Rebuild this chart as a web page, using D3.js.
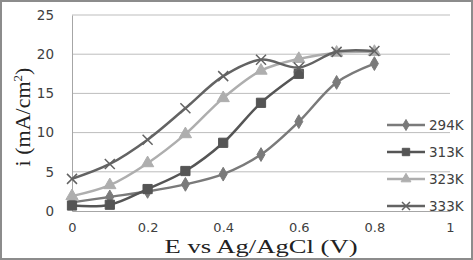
<!DOCTYPE html>
<html>
<head>
<meta charset="utf-8">
<script src="https://cdn.jsdelivr.net/npm/d3@7"></script>
<style>
  body { margin: 0; background: #ffffff; }
  svg { display: block; }
</style>
</head>
<body>
<div id="chart"></div>
<script>
// potential (V) vs current density, one series per temperature
const potentials = [0, 0.1, 0.2, 0.3, 0.4, 0.5, 0.6, 0.7, 0.8];
const seriesNames = ["294K", "313K", "323K", "333K"];
const i294 = [1.1, 1.8, 2.5, 3.4, 4.7, 7.2, 11.4, 16.4, 18.8];
const i313 = [0.7, 0.8, 2.8, 5.1, 8.7, 13.8, 17.5];
const i323 = [1.9, 3.3, 6.1, 9.8, 14.4, 17.9, 19.4, 20.2, 20.3];
const i333 = [4.1, 6.0, 9.1, 13.1, 17.2, 19.3, 18.3, 20.3, 20.4];
const xTicks = [0, 0.2, 0.4, 0.6, 0.8, 1];
const yTicks = [0, 5, 10, 15, 20, 25];

const W = 473, H = 260;
const margin = {top: 15, right: 23, bottom: 49, left: 72};

const svg = d3.select("#chart").append("svg")
    .attr("width", W)
    .attr("height", H);

// outer chart border
svg.append("rect")
    .attr("x", 1).attr("y", 1)
    .attr("width", W - 2).attr("height", H - 2)
    .attr("fill", "#ffffff")
    .attr("stroke", "#8c8c8c")
    .attr("stroke-width", 2);

const x = d3.scaleLinear().domain([0, 1]).range([margin.left, W - margin.right]);
const y = d3.scaleLinear().domain([0, 25]).range([H - margin.bottom, margin.top]);

// horizontal gridlines
svg.append("g")
    .selectAll("line")
    .data(yTicks.filter(d => d > 0))
    .enter().append("line")
    .attr("x1", x(0)).attr("x2", x(1))
    .attr("y1", d => y(d)).attr("y2", d => y(d))
    .attr("stroke", "#bdbdbd")
    .attr("stroke-width", 1);

const tickFont = "DejaVu Sans, Verdana, sans-serif";

// X axis
const xAxis = svg.append("g")
    .attr("transform", "translate(0," + y(0) + ")")
    .call(d3.axisBottom(x).tickValues(xTicks).tickSize(0).tickPadding(12)
        .tickFormat(d => d === 0 || d === 1 ? d3.format("d")(d) : d3.format(".1f")(d)));
xAxis.select(".domain").attr("stroke", "#a6a6a6");
xAxis.selectAll("text")
    .attr("font-family", tickFont)
    .attr("font-size", 13)
    .attr("fill", "#404040");

// Y axis
const yAxis = svg.append("g")
    .attr("transform", "translate(" + x(0) + ",0)")
    .call(d3.axisLeft(y).tickValues(yTicks).tickSize(0).tickPadding(18));
yAxis.select(".domain").attr("stroke", "#a6a6a6");
yAxis.selectAll("text")
    .attr("font-family", tickFont)
    .attr("font-size", 13.5)
    .attr("fill", "#404040");

// axis titles
svg.append("text")
    .attr("x", 261)
    .attr("y", 253)
    .attr("text-anchor", "middle")
    .attr("font-family", "Liberation Serif, Times New Roman, serif")
    .attr("font-size", 19)
    .attr("textLength", 193)
    .attr("lengthAdjust", "spacingAndGlyphs")
    .attr("fill", "#222222")
    .text("E vs Ag/AgCl (V)");

const yTitle = svg.append("text")
    .attr("transform", "translate(30,117) rotate(-90)")
    .attr("text-anchor", "middle")
    .attr("font-family", "Liberation Serif, Times New Roman, serif")
    .attr("font-size", 22)
    .attr("fill", "#222222");
yTitle.append("tspan").text("i  (mA/cm");
yTitle.append("tspan").attr("font-size", 13).attr("dy", -8).text("2");
yTitle.append("tspan").attr("dy", 8).text(")");

const series = [
    {name: seriesNames[0], values: i294, color: "#7a7a7a", marker: d3.symbolDiamond, size: 55},
    {name: seriesNames[1], values: i313, color: "#555555", marker: d3.symbolSquare, size: 85},
    {name: seriesNames[2], values: i323, color: "#aeaeae", marker: d3.symbolTriangle, size: 65},
    {name: seriesNames[3], values: i333, color: "#636363", marker: "cross", size: 5}
];

const line = d3.line()
    .x(d => x(d[0]))
    .y(d => y(d[1]))
    .curve(d3.curveCatmullRom.alpha(0.5));

function drawMarker(g, s, cx, cy, scale) {
    if (s.marker === "cross") {
        const r = s.size * scale;
        g.append("path")
            .attr("d", `M${cx - r},${cy - r}L${cx + r},${cy + r}M${cx - r},${cy + r}L${cx + r},${cy - r}`)
            .attr("stroke", s.color)
            .attr("stroke-width", 1.5)
            .attr("fill", "none");
    } else {
        g.append("path")
            .attr("d", d3.symbol().type(s.marker).size(s.size * scale * scale)())
            .attr("transform", "translate(" + cx + "," + cy + ")")
            .attr("fill", s.color)
            .attr("stroke", s.color);
    }
}

series.forEach(s => {
    const pts = s.values.map((v, k) => [potentials[k], v]);
    const g = svg.append("g");
    g.append("path")
        .datum(pts)
        .attr("d", line)
        .attr("fill", "none")
        .attr("stroke", s.color)
        .attr("stroke-width", 2.5);
    pts.forEach(p => drawMarker(g, s, x(p[0]), y(p[1]), 1));
});

// legend
const legendY = [125, 152, 179, 206];
series.forEach((s, k) => {
    const g = svg.append("g");
    g.append("line")
        .attr("x1", 387).attr("x2", 425)
        .attr("y1", legendY[k]).attr("y2", legendY[k])
        .attr("stroke", s.color)
        .attr("stroke-width", 2.5);
    drawMarker(g, s, 406, legendY[k], 0.8);
    g.append("text")
        .attr("x", 429)
        .attr("y", legendY[k] + 5)
        .attr("font-family", tickFont)
        .attr("font-size", 13.5)
        .attr("fill", "#404040")
        .text(s.name);
});
</script>
</body>
</html>
